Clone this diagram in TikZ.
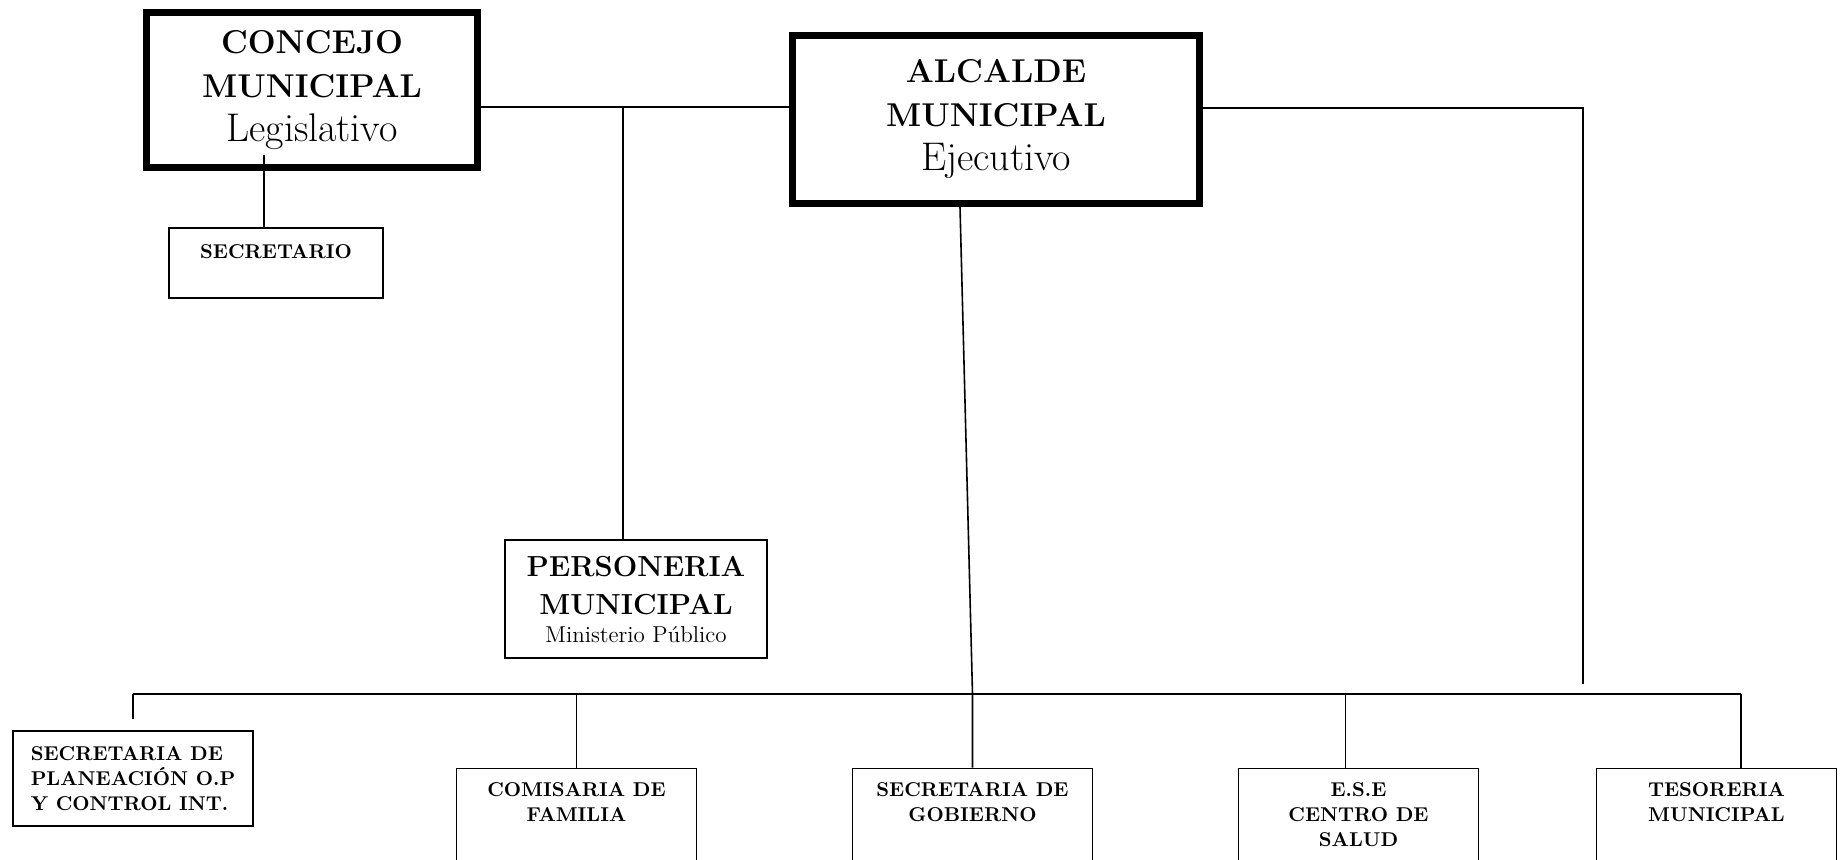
\documentclass[tikz,border=0pt]{standalone}
\usepackage{tikz}
\usetikzlibrary{positioning}
\tikzstyle{headbox}=[draw,line width=3.5pt,align=center,inner sep=0pt,font=\fontsize{16.5}{22}\selectfont\bfseries]
\tikzstyle{unitbox}=[draw,line width=0.9pt,inner sep=0pt]
\tikzstyle{lowbox}=[unitbox,anchor=north,minimum width=120pt,minimum height=100pt]
\tikzstyle{boxtext}=[inner sep=0pt,align=center,font=\fontsize{10}{12.5}\selectfont\bfseries]
\tikzstyle{link}=[line width=0.8pt]

\begin{document}
\begin{tikzpicture}[x=0.5pt,y=-0.5pt]
\useasboundingbox (0,0) rectangle (1841,860);
\clip (0,0) rectangle (1841,860);
% cabeza
\node [headbox,minimum width=165.5pt,minimum height=77.5pt] (concejo) at (312,90)
  {CONCEJO\\MUNICIPAL\\\fontsize{20}{22}\selectfont\mdseries Legislativo};
\node [headbox,minimum width=203.5pt,minimum height=84pt] (alcalde) at (996,119.5)
  {ALCALDE\\MUNICIPAL\\\fontsize{20}{22}\selectfont\mdseries Ejecutivo};
\node [unitbox,minimum width=107pt,minimum height=35pt] (secretario) at (276,263) {};
\node [boxtext,below=8.5pt of secretario.north] (secretario-t) {SECRETARIO};
\node [unitbox,align=center,minimum width=131pt,minimum height=59pt,
  font=\fontsize{14.5}{19}\selectfont\bfseries] (personeria) at (636,599)
  {PERSONERIA\\MUNICIPAL\\[-5pt]\fontsize{11.5}{13.5}\selectfont\mdseries Ministerio Público};
% dependencias
\node [unitbox,boxtext,align=left,minimum width=120pt,minimum height=47.5pt] (planeacion) at (133,778.5)
  {SECRETARIA DE\\PLANEACIÓN O.P\\Y CONTROL INT.};
\node [lowbox] (comisaria) at (576.5,767.5) {};
\node [lowbox] (gobierno) at (972.5,767.5) {};
\node [lowbox] (ese) at (1358.5,767.5) {};
\node [lowbox] (tesoreria) at (1716.5,767.5) {};
\node [boxtext,below=7.5pt of comisaria.north] (comisaria-t) {COMISARIA DE\\FAMILIA};
\node [boxtext,below=7.5pt of gobierno.north] (gobierno-t) {SECRETARIA DE\\GOBIERNO};
\node [boxtext,below=7.5pt of ese.north] (ese-t) {E.S.E\\CENTRO DE\\SALUD};
\node [boxtext,below=7.5pt of tesoreria.north] (tesoreria-t) {TESORERIA\\MUNICIPAL};
% lineas
\coordinate (jl) at (623,107);
\coordinate (sl) at (264,155);
\coordinate (ar) at (1583,108);
\coordinate (arend) at (1583,684);
\coordinate (busL) at (133,694);
\coordinate (busR) at (1741,694);
\coordinate (eseJ) at (1345.5,694);
\draw [link] (concejo.east |- jl) -- (alcalde.west |- jl);
\draw [link] (jl) -- (jl |- personeria.north);
\draw [link] (sl) -- (sl |- secretario.north);
\draw [link] (alcalde.east |- ar) -- (ar) -- (arend);
\draw [link] ([xshift=-18pt]alcalde.south) -- (gobierno.north |- busL) -- (gobierno.north);
\draw [line width=1.2pt] (busL) -- (busR);
\draw [link,shorten >=5.5pt] (busL) -- (planeacion.north);
\draw [link] (comisaria.north |- busL) -- (comisaria.north);
\draw [link] (eseJ) -- (eseJ |- ese.north);
\draw [link] (busR) -- (busR |- tesoreria.north);
\end{tikzpicture}
\end{document}
